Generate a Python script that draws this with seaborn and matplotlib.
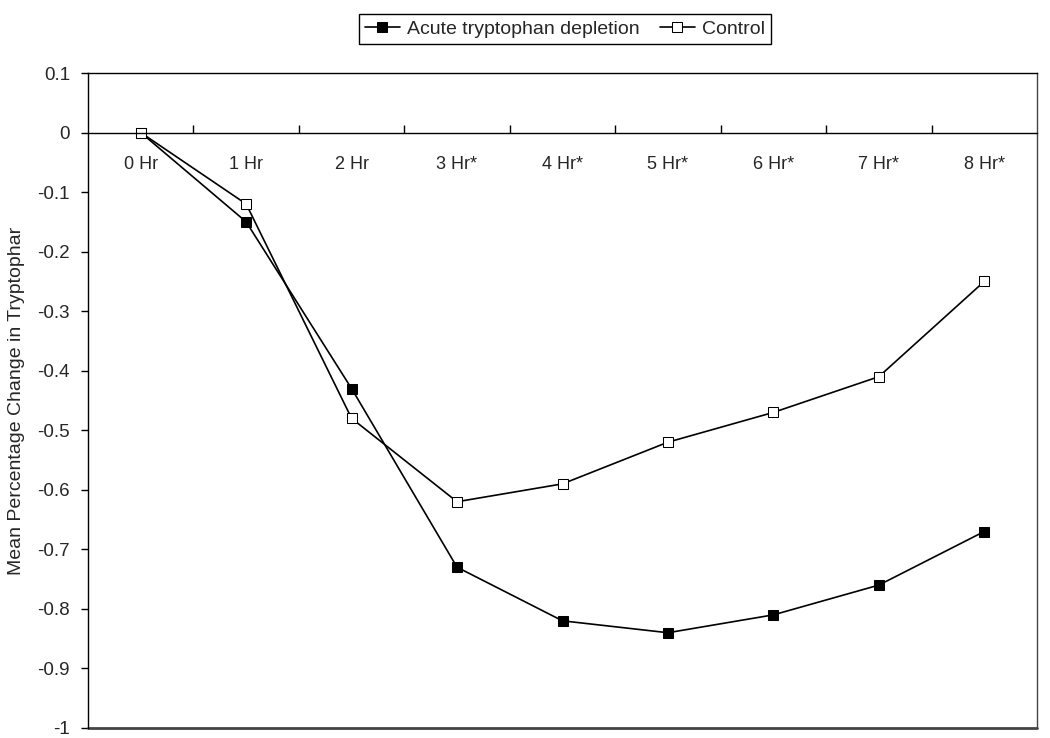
import matplotlib
matplotlib.use('Agg')
import matplotlib.pyplot as plt
import numpy as np
import pandas as pd
import seaborn as sns

hours = ['0 Hr', '1 Hr', '2 Hr', '3 Hr*', '4 Hr*', '5 Hr*', '6 Hr*', '7 Hr*', '8 Hr*']
atd = [0, -0.15, -0.43, -0.73, -0.82, -0.84, -0.81, -0.76, -0.67]
control = [0, -0.12, -0.48, -0.62, -0.59, -0.52, -0.47, -0.41, -0.25]

sns.set_style('white')
plt.rcParams['font.family'] = ['Liberation Sans', 'DejaVu Sans']

df = pd.DataFrame({'pos': np.arange(len(hours)), 'atd': atd, 'control': control})

fig = plt.figure(figsize=(10.5, 7.38), dpi=100)
ax = fig.add_axes([88 / 1050, 10 / 738, 949 / 1050, 655 / 738])

sns.lineplot(data=df, x='pos', y='atd', ax=ax, color='black', linewidth=1.2,
             marker='s', markersize=7, markerfacecolor='black', markeredgecolor='black',
             label='Acute tryptophan depletion')
sns.lineplot(data=df, x='pos', y='control', ax=ax, color='black', linewidth=1.2,
             marker='s', markersize=7, markerfacecolor='white', markeredgecolor='black',
             label='Control')

ax.set_xlim(-0.5, len(hours) - 0.5)
ax.set_ylim(-1, 0.1)
ax.set_yticks(np.arange(-1, 0.101, 0.1))
ax.set_yticklabels(['-1', '-0.9', '-0.8', '-0.7', '-0.6', '-0.5', '-0.4', '-0.3',
                    '-0.2', '-0.1', '0', '0.1'], fontsize=13.5)

# x axis sits at zero, box border drawn at the bottom
ax.spines['bottom'].set_position(('data', 0))
ax.spines['bottom'].set_color('black')
for s in ['left', 'top']:
    ax.spines[s].set_color('black')
ax.spines['right'].set_color('#444444')
ax.axhline(-1, color='#444444', linewidth=2, clip_on=False)
for s in ax.spines.values():
    s.set_linewidth(1.0)

ax.set_xticks(df['pos'])
ax.set_xticklabels(hours, fontsize=13)
ax.set_xticks(np.arange(0.5, len(hours) - 1, 1), minor=True)
ax.tick_params(axis='x', which='major', length=0, pad=17)
ax.tick_params(axis='x', which='minor', length=6, width=1, direction='in', color='black', bottom=True)
ax.tick_params(axis='y', length=5, width=1, direction='out', color='black', left=True, pad=8)

ax.set_xlabel('')
ax.set_ylabel('Mean Percentage Change in Tryptophar', fontsize=14)
ax.yaxis.set_label_coords(-0.066, 0.5)

handles, labels = ax.get_legend_handles_labels()
ax.legend_.remove()
leg = fig.legend(handles, labels, loc='center', bbox_to_anchor=(565 / 1050, 1 - 29 / 738),
                 ncol=2, fontsize=14, frameon=True, fancybox=False, edgecolor='black',
                 framealpha=1, handlelength=1.8, columnspacing=1.0, handletextpad=0.4,
                 borderpad=0.3)
leg.get_frame().set_linewidth(1.0)

fig.savefig('out.png', dpi=100)
